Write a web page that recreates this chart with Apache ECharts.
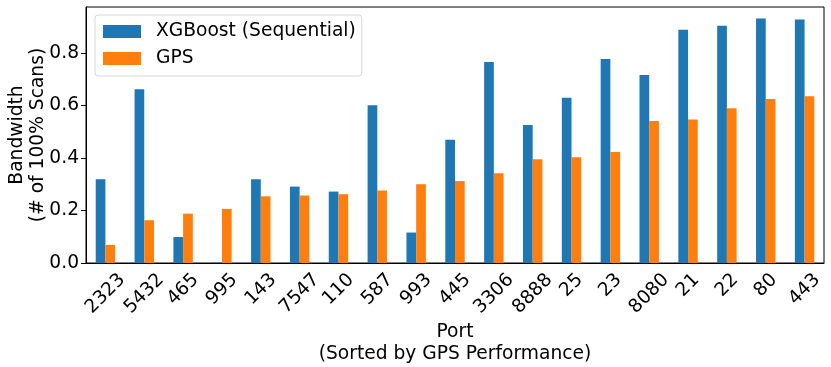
<!DOCTYPE html>
<html>
<head>
<meta charset="utf-8">
<script src="https://cdn.jsdelivr.net/npm/echarts@6/dist/echarts.min.js"></script>
<style>
  html, body { margin: 0; padding: 0; background: #fff; }
  #container { width: 831px; height: 367px; }
</style>
</head>
<body>
<div id="container"></div>
<script>
var dom = document.getElementById("container");
var myChart = echarts.init(dom);

// ports, sorted by GPS performance
var ports = ['2323', '5432', '465', '995', '143', '7547', '110', '587', '993', '445',
             '3306', '8888', '25', '23', '8080', '21', '22', '80', '443'];
// bandwidth (fraction of 100% scans)
var xgboost = [0.319, 0.662, 0.099, 0.002, 0.319, 0.291, 0.272, 0.601, 0.116, 0.469,
               0.766, 0.526, 0.629, 0.777, 0.716, 0.888, 0.904, 0.931, 0.927];
var gps = [0.069, 0.163, 0.188, 0.206, 0.254, 0.257, 0.262, 0.276, 0.300, 0.312,
           0.342, 0.395, 0.403, 0.423, 0.541, 0.547, 0.589, 0.625, 0.635];
var yTicks = [0, 0.2, 0.4, 0.6, 0.8];

var font = 'DejaVu Sans';
var fs = 18.67;

// rotated labels centred under the tick like matplotlib (ha='center'):
// pad each label by half its width so the box centre drops with its length
var digitW = 0.636 * fs;
var rich = {};
[2, 3, 4].forEach(function (n) {
    var w = n * digitW;
    rich['d' + n] = {
        fontFamily: font, fontSize: fs, color: '#000',
        padding: [w / 2, w / 2, 0, 0]
    };
});

var option = {
    animation: false,
    textStyle: {fontFamily: font},
    grid: {
        left: 86,
        right: 7,
        top: 7,
        bottom: 104,
        outerBoundsMode: 'none',
        containLabel: false,
        show: true,
        borderColor: '#000',
        borderWidth: 1,
        backgroundColor: 'transparent'
    },
    legend: {
        orient: 'vertical',
        left: 95,
        top: 15,
        icon: 'rect',
        itemWidth: 38,
        itemHeight: 13,
        itemGap: 8,
        padding: [7, 6, 8, 8],
        borderColor: '#d6d6d6',
        borderWidth: 1,
        borderRadius: 3,
        backgroundColor: 'rgba(255,255,255,0.8)',
        textStyle: {fontFamily: font, fontSize: fs, color: '#000', padding: [0, 0, 0, 10]},
        data: ['XGBoost (Sequential)', 'GPS']
    },
    xAxis: {
        type: 'category',
        data: ports,
        name: 'Port\n(Sorted by GPS Performance)',
        nameLocation: 'middle',
        nameGap: 58,
        nameMoveOverlap: false,
        nameTextStyle: {fontFamily: font, fontSize: fs, color: '#000', lineHeight: 22},
        axisLine: {lineStyle: {color: '#000'}},
        axisTick: {alignWithLabel: true, length: 5, lineStyle: {color: '#000'}},
        axisLabel: {
            rotate: 45, interval: 0, margin: 14,
            align: 'center', verticalAlign: 'middle',
            fontSize: fs, color: '#000', fontFamily: font,
            formatter: function (v) { return '{d' + v.length + '|' + v + '}'; },
            rich: rich
        }
    },
    yAxis: {
        type: 'value',
        min: 0,
        max: 0.975,
        interval: 0.2,
        name: 'Bandwidth\n(# of 100% Scans)',
        nameLocation: 'middle',
        nameGap: 37,
        nameMoveOverlap: false,
        nameTextStyle: {fontFamily: font, fontSize: fs, color: '#000', lineHeight: 21.5},
        splitLine: {show: false},
        axisLine: {show: true, lineStyle: {color: '#000'}},
        axisTick: {show: true, length: 5, lineStyle: {color: '#000'}, customValues: yTicks},
        axisLabel: {
            fontSize: fs, color: '#000', margin: 7, fontFamily: font,
            customValues: yTicks,
            formatter: function (v) { return v.toFixed(1); }
        }
    },
    series: [
        {
            name: 'XGBoost (Sequential)',
            type: 'bar',
            barWidth: '25%',
            barGap: '0%',
            itemStyle: {color: '#1f77b4'},
            data: xgboost
        },
        {
            name: 'GPS',
            type: 'bar',
            barWidth: '25%',
            barGap: '0%',
            itemStyle: {color: '#ff7f0e'},
            data: gps
        }
    ]
};

myChart.setOption(option, true);
</script>
</body>
</html>
